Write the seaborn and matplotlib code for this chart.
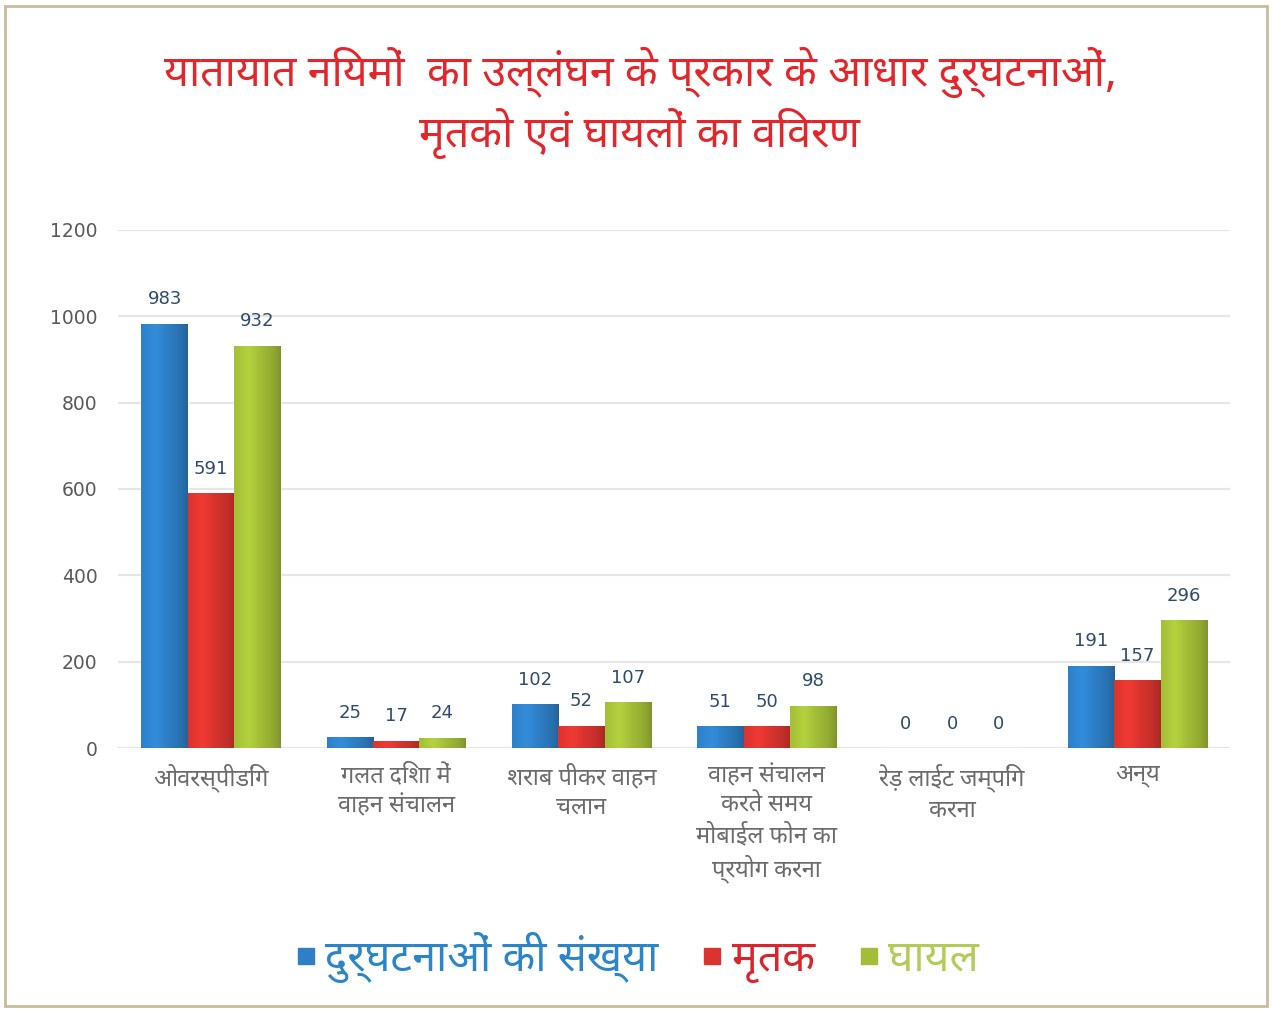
import numpy as np
import pandas as pd
import matplotlib
matplotlib.use("Agg")
import matplotlib.pyplot as plt
import matplotlib.font_manager as fm
from matplotlib import ft2font
from matplotlib.colors import to_rgb
from matplotlib.patches import Rectangle
from matplotlib.lines import Line2D
import seaborn as sns

# ---- data ----
categories = [
    "ओवरस्पीडिंग",
    "गलत दिशा में\nवाहन संचालन",
    "शराब पीकर वाहन\nचलान",
    "वाहन संचालन\nकरते समय\nमोबाईल फोन का\nप्रयोग करना",
    "रेड़ लाईट जम्पिंग\nकरना",
    "अन्य",
]
series_names = ["दुर्घटनाओं की संख्या", "मृतक", "घायल"]
accidents = [983, 25, 102, 51, 0, 191]
deaths = [591, 17, 52, 50, 0, 157]
injured = [932, 24, 107, 98, 0, 296]
y_ticks = [0, 200, 400, 600, 800, 1000, 1200]

title_text = "यातायात नियमों  का उल्लंघन के प्रकार के आधार दुर्घटनाओं,\nमृतको एवं घायलों का विवरण"

colors = ["#2e7fc6", "#d9342f", "#a3bd38"]
legend_text_colors = ["#2a86c8", "#d8262c", "#b2cc5a"]


def devanagari_families():
    """Installed families with Devanagari glyphs, outline fonts first."""
    found = []
    for f in fm.fontManager.ttflist:
        if f.name in found:
            continue
        try:
            cmap = ft2font.FT2Font(f.fname).get_charmap()
        except Exception:
            continue
        if 0x0915 in cmap and 0x093F in cmap:
            found.append(f.name)
    preferred = ["Noto Sans Devanagari", "Lohit Devanagari", "Mukta", "Hind",
                 "FreeSans", "Gargi", "Kalimati", "Samanata", "Sarai"]
    ranked = [n for p in preferred for n in found if n.startswith(p)]
    ranked += [n for n in found if n not in ranked and "unifont" not in n.lower()]
    ranked += [n for n in found if n not in ranked]
    return ranked


sns.set_theme(style="white")
deva = devanagari_families()
families = deva[:1] + ["DejaVu Sans"]
plt.rcParams["font.family"] = families

df = pd.DataFrame({
    "category": np.repeat(categories, 3),
    "series": series_names * len(categories),
    "value": np.ravel(np.column_stack([accidents, deaths, injured])),
})

fig = plt.figure(figsize=(12.72, 10.10), dpi=100)
fig.patch.set_facecolor("white")
ax = fig.add_axes([0.093, 0.2594, 0.874, 0.5129])

sns.barplot(data=df, x="category", y="value", hue="series",
            palette=colors, width=0.75, gap=0, ax=ax, legend=False,
            saturation=1, errorbar=None)

ax.set_ylim(0, 1200)
ax.set_xlim(-0.5, len(categories) - 0.5)
ax.set_yticks(y_ticks)
ax.set_yticklabels([str(t) for t in y_ticks], color="#595959", fontsize=13.5,
                   family="DejaVu Sans")
ax.tick_params(axis="y", length=0, pad=15)
ax.tick_params(axis="x", length=0, pad=11)
for lbl in ax.get_xticklabels():
    lbl.set_color("#6b6b6b")
    lbl.set_fontsize(17)
    lbl.set_linespacing(1.3)
ax.set_xlabel("")
ax.set_ylabel("")
ax.grid(axis="y", color="#e6e6e6", linewidth=1.6)
ax.set_axisbelow(True)
for s in ax.spines.values():
    s.set_visible(False)

# soft cylinder-like shading on each bar
for cont, base in zip(ax.containers, colors):
    rgb = np.array(to_rgb(base))
    t = np.linspace(0, 1, 64)
    shade = 1.0 + 0.10 * np.exp(-((t - 0.3) / 0.2) ** 2) - 0.22 * t ** 4
    grad = np.clip(rgb[None, :] * shade[:, None], 0, 1)[None, :, :]
    for p in cont.patches:
        h = p.get_height()
        if h <= 0:
            continue
        x0, w = p.get_x(), p.get_width()
        im = ax.imshow(grad, extent=[x0, x0 + w, 0, h], aspect="auto",
                       zorder=p.get_zorder() + 0.1, interpolation="bilinear")
        im.set_clip_path(p)
    ax.bar_label(cont, labels=[f"{int(v)}" for v in cont.datavalues],
                 padding=11, color="#2f4a6b", fontsize=13, family="DejaVu Sans")

ax.set_ylim(0, 1200)
ax.set_xlim(-0.5, len(categories) - 0.5)

# title
fig.text(0.503, 0.898, title_text, ha="center", va="center", color="#e4262b",
         fontsize=31, linespacing=1.25)

# legend
handles = [Line2D([0], [0], marker="s", linestyle="", markersize=12,
                  markerfacecolor=c, markeredgecolor=c) for c in colors]
leg = fig.legend(handles, series_names, loc="center", bbox_to_anchor=(0.500, 0.052),
                 ncol=3, frameon=False, fontsize=31, handletextpad=0.15,
                 columnspacing=0.95, handlelength=0.6)
for txt, c in zip(leg.get_texts(), legend_text_colors):
    txt.set_color(c)

# outer frame
fig.patches.append(Rectangle((0.004, 0.004), 0.992, 0.990, transform=fig.transFigure,
                             fill=False, edgecolor="#c9bc9c", linewidth=2))

fig.savefig("out.png", dpi=100, facecolor="white")
